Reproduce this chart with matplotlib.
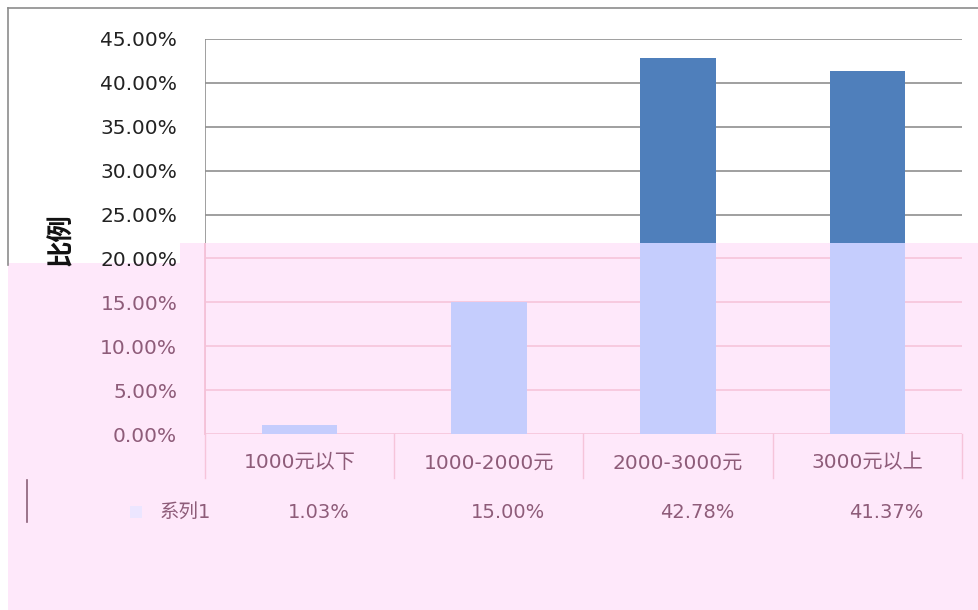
#!/usr/bin/env python
import matplotlib
matplotlib.use('Agg')
import matplotlib.pyplot as plt
from matplotlib.patches import Rectangle, Polygon
import matplotlib.transforms as mtransforms
import numpy as np

categories = ['1000元以下', '1000-2000元', '2000-3000元', '3000元以上']
values = [1.03, 15.00, 42.78, 41.37]
yticks = [0, 5, 10, 15, 20, 25, 30, 35, 40, 45]
series_name = '系列1'

W, H = 979, 610


def fx(px):
	return px / float(W)


def fy(py):
	return 1 - py / float(H)


def main():
	plt.rcParams['font.family'] = ['DejaVu Sans', 'Noto Sans CJK SC']
	blue = '#4f7fbb'
	lav = '#c5cdfd'
	pink_bg = '#fee8fa'
	pink_line = '#f6c4da'
	mauve = '#8e5c79'
	grey = '#8f8f8f'

	fig = plt.figure(figsize=(W / 100.0, H / 100.0), dpi=100)
	fig.patch.set_facecolor('white')

	# outer chart frame (only top/left visible)
	fig.add_artist(plt.Line2D([fx(8), fx(8)], [fy(8), fy(265)], color='#8c8c8c', lw=1.2))
	fig.add_artist(plt.Line2D([fx(8), fx(979)], [fy(8), fy(8)], color='#8c8c8c', lw=1.2))

	# pink wash over lower part
	poly = Polygon([(fx(8), fy(610)), (fx(8), fy(263)), (fx(180), fy(263)),
		(fx(180), fy(243)), (fx(979), fy(243)), (fx(979), fy(610))],
		closed=True, transform=fig.transFigure, facecolor=pink_bg, edgecolor='none', zorder=-5)
	fig.patches.append(poly)

	ax = fig.add_axes([fx(205), fy(434), fx(962) - fx(205), (434 - 39) / float(H)])
	ax.set_facecolor('none')
	x = np.arange(len(categories))
	ax.set_xlim(-0.5, len(categories) - 0.5)
	ax.set_ylim(0, 45)

	clip = Rectangle((fx(180), 0), 1, fy(243), transform=fig.transFigure)

	for t in yticks:
		c = grey if t >= 25 else pink_line
		ax.axhline(t, color=c, lw=1.2, zorder=1)
	ax.axvline(-0.5, color=grey, lw=1.2, zorder=1)
	vl = ax.axvline(-0.5, color=pink_line, lw=1.4, zorder=1.5)
	vl.set_clip_path(clip)

	ax.bar(x, values, width=0.4, color=blue, zorder=2)
	bars2 = ax.bar(x, values, width=0.4, color=lav, zorder=3)
	for b in bars2:
		b.set_clip_path(clip)

	for s in ax.spines.values():
		s.set_visible(False)

	ax.set_yticks(yticks)
	ax.set_yticklabels(['%.2f%%' % t for t in yticks], fontsize=14.5)
	ax.tick_params(axis='y', length=0, pad=20)
	for t, lab in zip(yticks, ax.get_yticklabels()):
		lab.set_color('#222222' if t >= 20 else mauve)

	ax.set_xticks(x)
	ax.set_xticklabels(categories, fontsize=14.5, color=mauve)
	ax.tick_params(axis='x', length=0, pad=14)

	fig.text(fx(61), fy(240), '比例', rotation=90, ha='center', va='center', fontsize=19,
		fontweight='bold', family=['Noto Sans CJK SC'], color='#111111')

	# data table
	trans = mtransforms.blended_transform_factory(ax.transData, ax.transAxes)
	ybot = -(478 - 434) / 395.0
	for e in np.arange(-0.5, len(categories)):
		ax.plot([e, e], [0, ybot], transform=trans, color=pink_line, lw=1, clip_on=False)
	yrow = -(512 - 434) / 395.0
	for i, v in enumerate(values):
		ax.text(i + 0.1, yrow, '%.2f%%' % v, transform=trans, ha='center', va='center',
			fontsize=14, color=mauve)
	fig.text(fx(185), fy(512), series_name, ha='center', va='center', fontsize=14, color=mauve)
	fig.patches.append(Rectangle((fx(130), fy(518)), fx(12), 12 / float(H),
		transform=fig.transFigure, facecolor='#ece6ff', edgecolor='none'))
	fig.add_artist(plt.Line2D([fx(27), fx(27)], [fy(480), fy(522)], color='#8a6078', lw=1.2))

	fig.savefig('out.png', dpi=100)


if __name__ == '__main__':
	main()
